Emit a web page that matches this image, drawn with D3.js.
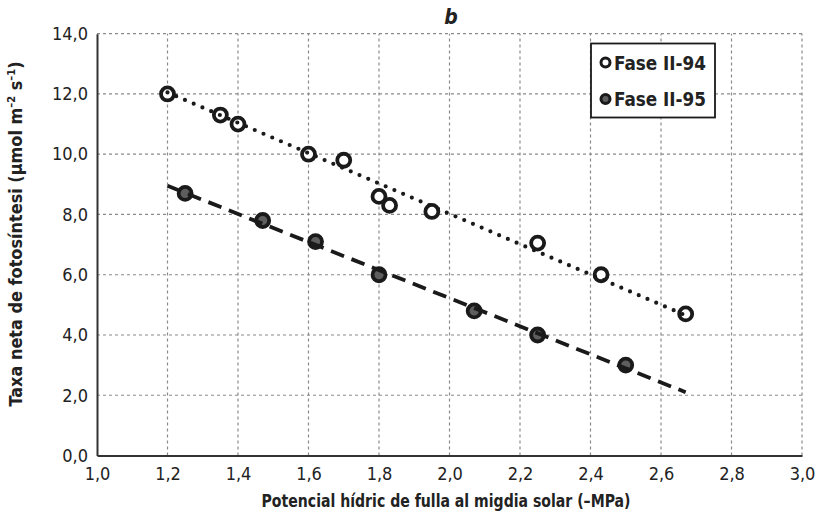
<!DOCTYPE html>
<html>
<head>
<meta charset="utf-8">
<script src="https://cdn.jsdelivr.net/npm/d3@7"></script>
<style>
  html, body { margin: 0; padding: 0; background: #fff; }
  svg { display: block; }
  text { font-family: "DejaVu Sans Condensed", "DejaVu Sans", sans-serif; fill: #222; }
</style>
</head>
<body>
<svg id="chart" width="818" height="524"></svg>
<script>
// Fase II-94 (open markers)
const x94 = [1.2, 1.35, 1.4, 1.6, 1.7, 1.8, 1.83, 1.95, 2.25, 2.43, 2.67];
const y94 = [12.0, 11.3, 11.0, 10.0, 9.8, 8.6, 8.3, 8.1, 7.05, 6.0, 4.7];
// Fase II-95 (filled markers)
const x95 = [1.25, 1.47, 1.62, 1.8, 2.07, 2.25, 2.5];
const y95 = [8.7, 7.8, 7.1, 6.0, 4.8, 4.0, 3.0];
// Trend lines (endpoints of each linear fit)
const trend94 = [[1.2, 12.05], [2.67, 4.65]];
const trend95 = [[1.2, 8.95], [2.67, 2.1]];
const xTicks = [1.0, 1.2, 1.4, 1.6, 1.8, 2.0, 2.2, 2.4, 2.6, 2.8, 3.0];
const yTicks = [0, 2, 4, 6, 8, 10, 12, 14];
const seriesNames = ["Fase II-94", "Fase II-95"];

const fmt = v => d3.format(".1f")(v).replace(".", ",");

const svg = d3.select("#chart");
const x = d3.scaleLinear().domain([1.0, 3.0]).range([97, 802]);
const y = d3.scaleLinear().domain([0, 14]).range([455.5, 33.7]);

// grid
const grid = svg.append("g").attr("stroke", "#8a8a8a").attr("stroke-width", 1.2)
  .attr("stroke-dasharray", "3,3");
grid.selectAll("line.v").data(xTicks.slice(1)).join("line")
  .attr("x1", d => x(d)).attr("x2", d => x(d))
  .attr("y1", y(0)).attr("y2", y(14));
grid.selectAll("line.h").data(yTicks.slice(1)).join("line")
  .attr("x1", x(1.0)).attr("x2", x(3.0))
  .attr("y1", d => y(d)).attr("y2", d => y(d));

// axes
const xAxis = svg.append("g").attr("transform", `translate(0,${y(0)})`)
  .call(d3.axisBottom(x).tickValues(xTicks).tickFormat(fmt).tickSize(0).tickPadding(12));
const yAxis = svg.append("g").attr("transform", `translate(${x(1.0)},0)`)
  .call(d3.axisLeft(y).tickValues(yTicks).tickFormat(fmt).tickSize(0).tickPadding(9));
[xAxis, yAxis].forEach(a => {
  a.select(".domain").attr("stroke", "#333").attr("stroke-width", 2);
  a.selectAll("text").attr("font-size", 18).attr("fill", "#222")
    .style("font-family", '"DejaVu Sans Condensed", sans-serif');
});

// markers
const markers = svg.append("g");
markers.selectAll("circle.s94").data(x94.map((d, i) => [d, y94[i]])).join("circle")
  .attr("cx", d => x(d[0])).attr("cy", d => y(d[1])).attr("r", 6.5)
  .attr("fill", "#fff").attr("stroke", "#1a1a1a").attr("stroke-width", 3.8);
markers.selectAll("circle.s95").data(x95.map((d, i) => [d, y95[i]])).join("circle")
  .attr("cx", d => x(d[0])).attr("cy", d => y(d[1])).attr("r", 6.5)
  .attr("fill", "#5e5e5e").attr("stroke", "#1a1a1a").attr("stroke-width", 3.8);

// trend lines drawn on top
const line = d3.line().x(d => x(d[0])).y(d => y(d[1]));
svg.append("path").attr("d", line(trend94)).attr("fill", "none")
  .attr("stroke", "#1a1a1a").attr("stroke-width", 4.2)
  .attr("stroke-linecap", "round").attr("stroke-dasharray", "0,9.5");
svg.append("path").attr("d", line(trend95)).attr("fill", "none")
  .attr("stroke", "#1a1a1a").attr("stroke-width", 3.8)
  .attr("stroke-dasharray", "14,8");

// legend
const lg = svg.append("g");
lg.append("rect").attr("x", 591).attr("y", 43.5).attr("width", 124).attr("height", 74)
  .attr("fill", "#fff").attr("stroke", "#1a1a1a").attr("stroke-width", 1.8);
const legendFill = ["#fff", "#5e5e5e"];
seriesNames.forEach((name, i) => {
  const cy = 62.5 + i * 36.5;
  lg.append("circle").attr("cx", 605.5).attr("cy", cy).attr("r", 4.5)
    .attr("fill", legendFill[i]).attr("stroke", "#1a1a1a").attr("stroke-width", 3);
  lg.append("text").attr("x", 614).attr("y", cy + 7).attr("font-size", 19)
    .attr("font-weight", "bold").attr("textLength", 92).attr("lengthAdjust", "spacingAndGlyphs")
    .text(name);
});

// title
svg.append("text").attr("x", 451).attr("y", 24).attr("text-anchor", "middle")
  .attr("font-size", 21).attr("font-weight", "bold").attr("font-style", "italic").text("b");

// axis titles
svg.append("text").attr("x", 446).attr("y", 507).attr("text-anchor", "middle")
  .attr("font-size", 18).attr("font-weight", "bold")
  .attr("textLength", 369).attr("lengthAdjust", "spacingAndGlyphs")
  .text("Potencial hídric de fulla al migdia solar (–MPa)");
const yt = svg.append("text").attr("transform", "translate(22,234) rotate(-90)")
  .attr("text-anchor", "middle").attr("font-size", 18).attr("font-weight", "bold")
  .attr("textLength", 345).attr("lengthAdjust", "spacingAndGlyphs");
yt.append("tspan").text("Taxa neta de fotosíntesi (µmol m");
yt.append("tspan").attr("font-size", 11).attr("dy", -7).text("–2");
yt.append("tspan").attr("dy", 7).text(" s");
yt.append("tspan").attr("font-size", 11).attr("dy", -7).text("–1");
yt.append("tspan").attr("dy", 7).text(")");
</script>
</body>
</html>
